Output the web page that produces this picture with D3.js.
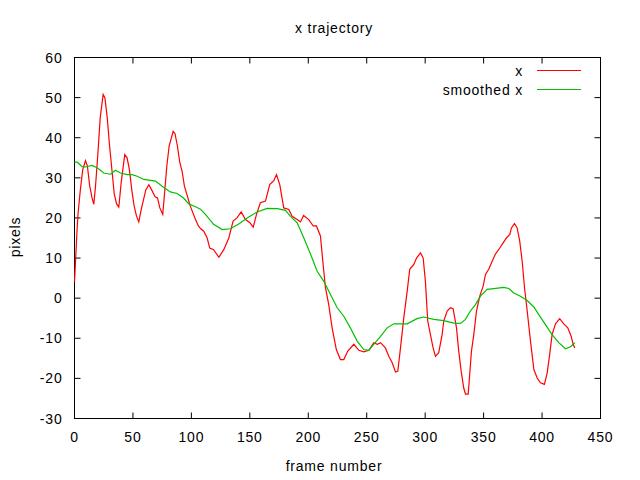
<!DOCTYPE html>
<html><head><meta charset="utf-8">
<script src="https://cdn.jsdelivr.net/npm/d3@7"></script>
<style>body{margin:0;background:#fff}svg text{font-family:"Liberation Sans",Arial,sans-serif;font-size:14px;letter-spacing:0.8px;fill:#000}</style>
</head><body><svg id="c" width="640" height="480"></svg>
<script>
const xTicks = [0,50,100,150,200,250,300,350,400,450];
const yTicks = [-30,-20,-10,0,10,20,30,40,50,60];
const rawFrames = [0,1,2,3,5,7,9.4,11,13,15,16.5,18,20,22,24.5,26,28,30,32,34,36,37.9,40,43,45,47,49,51,53,55,57,59,61,63.6,66,69,71,73,75.5,77,79,81,84.4,86,88,90,92,94,96,99,103,106,108,110.6,113.5,115.7,119,123.5,127.7,132,135.7,139,142.6,146.3,150,152.9,155.7,159,163.4,167,170.5,172.8,175.6,179,183.3,186.2,190.5,193.3,196,200.4,204.2,207,210.4,212.7,214.7,217.5,220.4,224,227.5,230.4,233.8,239,243.2,247.5,251.8,256,259,261.8,266,268.9,271.8,274.6,276.6,278.9,281.7,284.6,286.8,290.3,292.6,296,298.3,300.2,302.2,304.5,306.8,308.8,311.6,314.5,315.9,318.8,321.6,323.9,326.8,328.7,330.8,333,334.5,336.8,338.1,339.6,341.6,343.9,346.7,349.6,351.6,354.4,357.3,360.1,363.8,366.7,369.5,372.4,373.8,376.4,378.7,380.9,383,385,387.3,390.1,393,395.8,398.6,402,404.4,406.3,408.6,411.5,415.1,418.6,422,424.9,426.6,428];
const rawX = [4,10,16,21,27,32,34.3,33,28,25,23.4,28,36,45,50.8,50,45,38,32,26,23.5,22.7,29,35.8,35,32,27,23,20.5,19,22,24.5,27,28.3,27,25.3,25,22.5,20.9,26,33,38,41.6,41,38,34,31.7,28,26,23,20,18,17.3,16.7,15,12.5,12.1,10.2,12.1,15,19.2,20,21.5,19.6,18.8,17.7,20.9,23.8,24.2,28.3,29.3,30.8,28.3,22.5,22.1,20.4,19.6,19,20.6,19.6,18,18,15.5,8.4,2.6,-1.6,-7.4,-12.8,-15.3,-15.3,-13.2,-11.5,-13,-13.4,-13,-11.1,-11.5,-11.1,-12.4,-14.5,-16.1,-18.4,-18.2,-12.4,-4.9,1.7,7.2,8.4,10,11.3,10,4.2,-5.7,-9.1,-12.4,-14.5,-13.6,-9.1,-5.7,-3.2,-2.4,-2.6,-7.4,-13.2,-18.2,-22.4,-23.9,-23.9,-19,-13.2,-9.1,-3.2,0.5,3,5.9,7.2,9.2,11,12.5,13.8,15,15.9,17.5,18.6,17.5,14.2,9.2,2.6,-3.2,-10.7,-17.8,-19.9,-21.1,-21.5,-18.6,-14.5,-9.1,-6.4,-5.1,-6.4,-7.4,-9.5,-11.5,-12.4];
const smoothFrames = [0,2.3,6.6,9.4,15,19.4,25,30.8,35,39.3,45,49.3,53.6,59.3,69.3,75,82,87.8,93.5,97.8,103.5,107.8,112,119,126.3,133.4,140.5,147.7,156.3,164.8,173.4,180.5,184.8,190.5,196.2,201.9,207.6,213.3,219,224.7,230.4,236,241.8,247.5,251.8,256,261.8,267.5,273.2,284.6,293,298.8,307.4,316,324.5,330.2,334.5,338.7,343,347.3,353,358.7,367.2,371.5,375.8,381.5,387.3,393,397.2,402.9,408.6,414.3,420,424.3,428];
const smoothX = [33.9,33.9,32.8,32.7,33.1,32.5,31.2,30.9,31.9,31.2,30.8,30.8,30.4,29.6,29.2,27.9,26.5,26.1,24.9,23.5,22.8,22.2,20.9,18.4,17.1,17.3,18.5,20,21.5,22.4,22.3,21.9,20.4,18.8,15,11,6.7,4.2,0.9,-2.4,-4.5,-7.4,-10.7,-12.8,-13,-11.5,-9.5,-7.4,-6.4,-6.4,-5.1,-4.7,-5.3,-5.6,-6.2,-6.3,-5.3,-3.2,-1.6,0.5,2.2,2.4,2.7,2.4,1.3,0.5,-0.6,-2.2,-4.1,-6.6,-9.1,-11.1,-12.6,-12.1,-11.1];
const seriesNames = ["x","smoothed x"];
const seriesColors = ["#ff0000","#00c000"];

const svg = d3.select("#c");
const L=74.5, R=600.5, T=57.5, B=418.5;
const x = d3.scaleLinear().domain([0,450]).range([L,R]);
const y = d3.scaleLinear().domain([-30,60]).range([B,T]);

const g = svg.append("g");
// ticks (mirrored, inward)
xTicks.forEach(t=>{
  g.append("line").attr("x1",x(t)).attr("x2",x(t)).attr("y1",B).attr("y2",B-6).attr("stroke","#000");
  g.append("line").attr("x1",x(t)).attr("x2",x(t)).attr("y1",T).attr("y2",T+6).attr("stroke","#000");
  g.append("text").attr("x",x(t)).attr("y",B+23).attr("text-anchor","middle").text(t);
});
yTicks.forEach(t=>{
  g.append("line").attr("x1",L).attr("x2",L+6).attr("y1",y(t)).attr("y2",y(t)).attr("stroke","#000");
  g.append("line").attr("x1",R).attr("x2",R-6).attr("y1",y(t)).attr("y2",y(t)).attr("stroke","#000");
  g.append("text").attr("x",L-12).attr("y",y(t)+5).attr("text-anchor","end").text(t);
});
g.append("rect").attr("x",L).attr("y",T).attr("width",R-L).attr("height",B-T).attr("fill","none").attr("stroke","#000");

const line = d3.line().x(d=>x(d[0])).y(d=>y(d[1]));
const redData = rawFrames.map((f,i)=>[f,rawX[i]]);
const greenData = smoothFrames.map((f,i)=>[f,smoothX[i]]);
svg.append("path").datum(redData).attr("d",line).attr("fill","none").attr("stroke",seriesColors[0]).attr("stroke-width",1.2);
svg.append("path").datum(greenData).attr("d",line).attr("fill","none").attr("stroke",seriesColors[1]).attr("stroke-width",1.2);

// legend
seriesNames.forEach((n,i)=>{
  const yy = 70.5 + i*19;
  svg.append("text").attr("x",523).attr("y",yy+5).attr("text-anchor","end").text(n);
  svg.append("line").attr("x1",537).attr("x2",581).attr("y1",yy).attr("y2",yy).attr("stroke",seriesColors[i]);
});

svg.append("text").attr("x",334).attr("y",33).attr("text-anchor","middle").text("x trajectory");
svg.append("text").attr("x",334).attr("y",471).attr("text-anchor","middle").text("frame number");
svg.append("text").attr("transform","translate(20,237) rotate(-90)").attr("text-anchor","middle").text("pixels");
</script></body></html>
